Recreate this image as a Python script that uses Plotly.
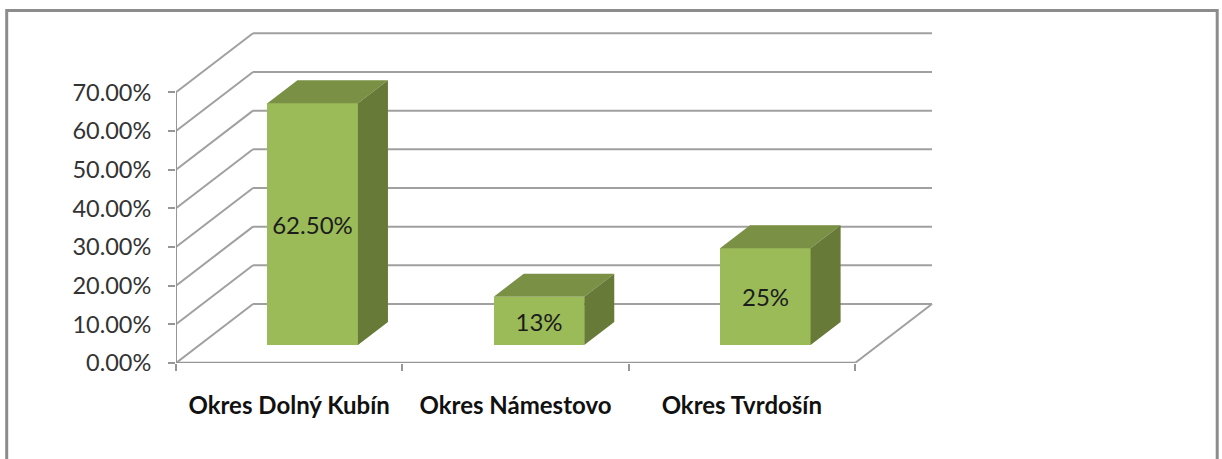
import plotly.graph_objects as go

# --- data ---
categories = ["Okres Dolný Kubín", "Okres Námestovo", "Okres Tvrdošín"]
values = [0.625, 0.125, 0.25]
value_labels = ["62.50%", "13%", "25%"]
y_ticks = [0.0, 0.1, 0.2, 0.3, 0.4, 0.5, 0.6, 0.7]

# --- pseudo-3D projection (in axis units) ---
W, H = 1222, 459
PX_X0, PX_Y0 = 175.8, 363.0
PX_PER_CAT, PX_PER_VAL = 226.33, 386.7
DEPTH_X, DEPTH_Y = 77 / PX_PER_CAT, 59 / PX_PER_VAL
X_MAX, Y_MAX = 3.95, 0.9258
BAR_W, BAR_FRONT, BAR_DEPTH = 0.4, 0.305, 0.39
n = len(categories)

FRONT, TOP, SIDE = "#9BBB59", "#7A9044", "#677A37"
GRID, AXIS, FRAME = "#A0A0A0", "#969696", "#8C8C8C"
FONT = "Lato, Carlito, Calibri, sans-serif"

fx = BAR_FRONT * DEPTH_X
fy = BAR_FRONT * DEPTH_Y
sx = BAR_DEPTH * DEPTH_X
sy = BAR_DEPTH * DEPTH_Y
centers = [i + 0.5 + fx for i in range(n)]

fig = go.Figure()

# front faces
fig.add_trace(go.Bar(
    x=centers, y=values, base=[fy] * n, width=BAR_W,
    marker=dict(color=FRONT, line=dict(width=0)),
    text=value_labels, textposition="inside", insidetextanchor="middle",
    textangle=0, textfont=dict(family=FONT, size=24, color="#1C1C1C"),
    hoverinfo="skip", showlegend=False,
))

# top and side faces, projected from each value
for c, v in zip(centers, values):
    l, r = c - BAR_W / 2, c + BAR_W / 2
    t = fy + v
    fig.add_trace(go.Scatter(
        x=[l, r, r + sx, l + sx, l], y=[t, t, t + sy, t + sy, t],
        mode="lines", fill="toself", fillcolor=TOP, line=dict(width=0),
        hoverinfo="skip", showlegend=False))
    fig.add_trace(go.Scatter(
        x=[r, r + sx, r + sx, r, r], y=[fy, fy + sy, t + sy, t, fy],
        mode="lines", fill="toself", fillcolor=SIDE, line=dict(width=0),
        hoverinfo="skip", showlegend=False))

# walls and floor, below the bars
shapes = []
def seg(x0, y0, x1, y1, color, width=2):
    shapes.append(dict(type="line", xref="x", yref="y", layer="below",
                       x0=x0, y0=y0, x1=x1, y1=y1,
                       line=dict(color=color, width=width)))

for v in y_ticks:
    seg(0, v, DEPTH_X, v + DEPTH_Y, GRID)
    seg(DEPTH_X, v + DEPTH_Y, n + DEPTH_X, v + DEPTH_Y, GRID, 2)
seg(n, 0, n + DEPTH_X, DEPTH_Y, GRID)
seg(0, 0, 0, y_ticks[-1], AXIS)
seg(0, 0, n, 0, AXIS, 2.5)

# outer frame (open at the bottom, running off the page)
plot_w = X_MAX * PX_PER_CAT
plot_h = Y_MAX * PX_PER_VAL
def px(p): return (p - PX_X0) / plot_w
def py(p): return (PX_Y0 - p) / plot_h
shapes.append(dict(
    type="path", xref="paper", yref="paper", layer="below",
    path=f"M {px(6.5)} {py(470)} L {px(6.5)} {py(10.5)} L {px(1217)} {py(10.5)} L {px(1217)} {py(470)}",
    line=dict(color=FRAME, width=3)))

fig.update_layout(
    width=W, height=H, bargap=0, barmode="overlay",
    paper_bgcolor="white", plot_bgcolor="rgba(0,0,0,0)",
    margin=dict(l=PX_X0, t=PX_Y0 - plot_h, b=H - PX_Y0, r=W - PX_X0 - plot_w, pad=0, autoexpand=False),
    shapes=shapes, showlegend=False,
)
fig.update_xaxes(
    range=[0, X_MAX], showgrid=False, zeroline=False, showline=False,
    tickmode="array", tickvals=[i + 0.5 for i in range(n)], ticktext=categories,
    ticks="", ticklabelstandoff=26,
    tickfont=dict(family=FONT, size=24, color="#111111", weight="bold"),
    minor=dict(tickmode="array", tickvals=list(range(n + 1)), ticks="outside",
               ticklen=7, tickwidth=2, tickcolor=AXIS, showgrid=False),
)
fig.update_yaxes(
    range=[0, Y_MAX], showgrid=False, zeroline=False, showline=False,
    tickmode="array", tickvals=y_ticks, tickformat=".2%",
    ticks="outside", ticklen=7, tickwidth=2, tickcolor=AXIS, ticklabelstandoff=12,
    tickfont=dict(family=FONT, size=23.5, color="#333333"),
)

fig.write_html("out.html", config=dict(displayModeBar=False),
               post_script="document.body.style.margin='0';")
